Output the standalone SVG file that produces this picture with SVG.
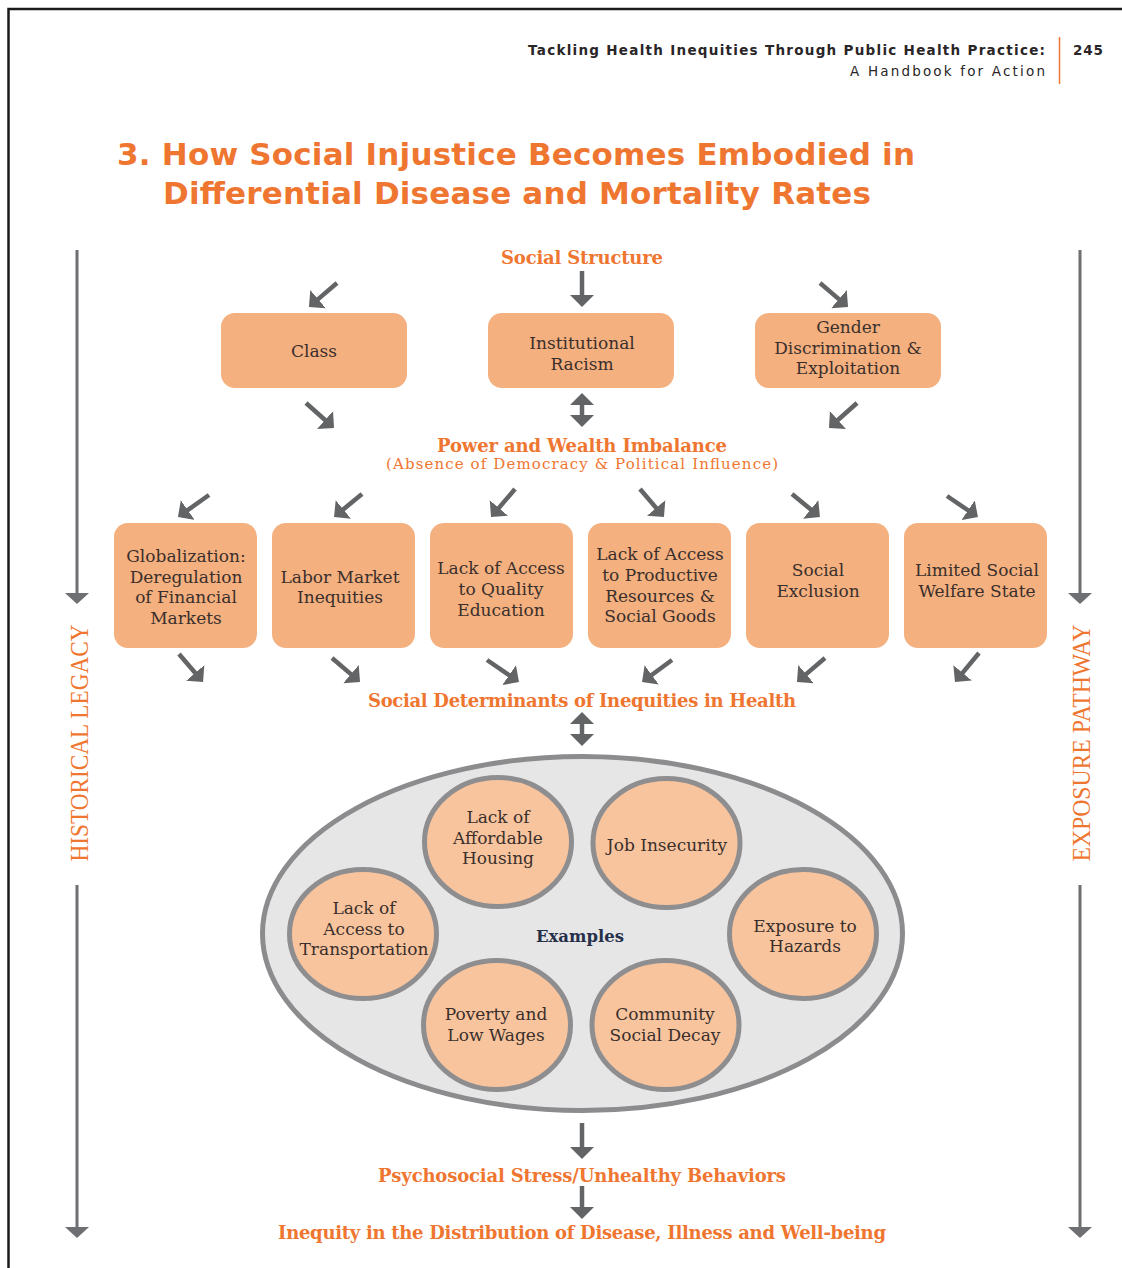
<svg xmlns="http://www.w3.org/2000/svg" width="1122" height="1268" viewBox="0 0 1122 1268">
  <defs>
    <style>
      .page { fill: none; stroke: #1a1a1a; stroke-width: 2.5; }
      .hdr { font-family: "DejaVu Sans", "Liberation Sans", sans-serif; font-size: 13.5px; fill: #2a2527; }
      .title { font-family: "DejaVu Sans", "Liberation Sans", sans-serif; font-size: 31px; font-weight: bold; fill: #ef7630; }
      .lbl { font-family: "DejaVu Serif", "Liberation Serif", serif; font-weight: bold; font-size: 18px; fill: #ef7630; text-anchor: middle; }
      .sub { font-family: "DejaVu Serif", "Liberation Serif", serif; font-size: 15px; fill: #ef7630; text-anchor: middle; }
      .side { font-family: "Liberation Serif", "Times New Roman", serif; font-size: 25px; fill: #ef7630; text-anchor: middle; }
      .box { fill: #f4b07f; }
      .bt { font-family: "DejaVu Serif", "Liberation Serif", serif; font-size: 17px; fill: #3a2f2c; text-anchor: middle; }
      .oval { fill: #e6e6e7; stroke: #8c8c8e; stroke-width: 5; }
      .circ { fill: #f8c49d; stroke: #8e8e90; stroke-width: 5; }
      .ex { font-family: "DejaVu Serif", "Liberation Serif", serif; font-weight: bold; font-size: 16.5px; fill: #26304a; text-anchor: middle; }
      .arr { stroke: #636466; stroke-width: 4.5; fill: none; marker-end: url(#head); }
      .dbl { stroke: #636466; stroke-width: 4.5; fill: none; marker-start: url(#head); marker-end: url(#head); }
      .rail { stroke: #6e6f72; stroke-width: 3; fill: none; marker-end: url(#bighead); }
    </style>
    <marker id="head" viewBox="0 -12 12 24" markerWidth="12" markerHeight="24" refX="3" refY="0" orient="auto-start-reverse" markerUnits="userSpaceOnUse">
      <path d="M0,-12 L12,0 L0,12 z" fill="#636466"/>
    </marker>
    <marker id="bighead" viewBox="0 -12 11 24" markerWidth="11" markerHeight="24" refX="2" refY="0" orient="auto" markerUnits="userSpaceOnUse">
      <path d="M0,-12 L11,0 L0,12 z" fill="#6e6f72"/>
    </marker>
  </defs>

  <rect width="1122" height="1268" fill="#ffffff"/>
  <!-- page frame -->
  <path class="page" d="M8.5,1268 V9 H1122"/>

  <!-- running header -->
  <g id="header">
    <text class="hdr" x="1045" y="55" text-anchor="end" font-weight="bold" textLength="517">Tackling Health Inequities Through Public Health Practice:</text>
    <text class="hdr" x="1045" y="76" text-anchor="end" textLength="195">A Handbook for Action</text>
    <line x1="1059.5" y1="37" x2="1059.5" y2="84" stroke="#ef7630" stroke-width="1.5"/>
    <text class="hdr" x="1073" y="55" font-weight="bold" textLength="30">245</text>
  </g>

  <g id="title">
    <text class="title" x="117" y="165" textLength="798">3. How Social Injustice Becomes Embodied in</text>
    <text class="title" x="163" y="204" textLength="708">Differential Disease and Mortality Rates</text>
  </g>

  <!-- side rails -->
  <g id="historical-legacy">
    <text class="side" transform="translate(88,743) rotate(-90)" textLength="237" lengthAdjust="spacingAndGlyphs">HISTORICAL LEGACY</text>
  </g>
  <g id="exposure-pathway">
    <text class="side" transform="translate(1090,743) rotate(-90)" textLength="237" lengthAdjust="spacingAndGlyphs">EXPOSURE PATHWAY</text>
  </g>

  <g id="social-structure">
    <text class="lbl" x="582" y="264" textLength="162">Social Structure</text>
  </g>

  <g id="class">
    <rect class="box" x="221" y="313" width="186" height="75" rx="14"/>
    <text class="bt" x="314" y="357">Class</text>
  </g>
  <g id="institutional-racism">
    <rect class="box" x="488" y="313" width="186" height="75" rx="14"/>
    <text class="bt" x="582" y="349">Institutional</text>
    <text class="bt" x="582" y="370">Racism</text>
  </g>
  <g id="gender">
    <rect class="box" x="755" y="313" width="186" height="75" rx="14"/>
    <text class="bt" x="848" y="333">Gender</text>
    <text class="bt" x="848" y="354">Discrimination &amp;</text>
    <text class="bt" x="848" y="374">Exploitation</text>
  </g>

  <g id="power-wealth">
    <text class="lbl" x="582" y="452" textLength="290">Power and Wealth Imbalance</text>
    <text class="sub" x="582" y="469" textLength="392">(Absence of Democracy &amp; Political Influence)</text>
  </g>

  <g id="globalization">
    <rect class="box" x="114" y="523" width="143" height="125" rx="14"/>
    <text class="bt" x="186" y="562">Globalization:</text>
    <text class="bt" x="186" y="583">Deregulation</text>
    <text class="bt" x="186" y="603">of Financial</text>
    <text class="bt" x="186" y="624">Markets</text>
  </g>
  <g id="labor-market">
    <rect class="box" x="272" y="523" width="143" height="125" rx="14"/>
    <text class="bt" x="340" y="583">Labor Market</text>
    <text class="bt" x="340" y="603">Inequities</text>
  </g>
  <g id="education">
    <rect class="box" x="430" y="523" width="143" height="125" rx="14"/>
    <text class="bt" x="501" y="574">Lack of Access</text>
    <text class="bt" x="501" y="595">to Quality</text>
    <text class="bt" x="501" y="616">Education</text>
  </g>
  <g id="productive-resources">
    <rect class="box" x="588" y="523" width="143" height="125" rx="14"/>
    <text class="bt" x="660" y="560">Lack of Access</text>
    <text class="bt" x="660" y="581">to Productive</text>
    <text class="bt" x="660" y="602">Resources &amp;</text>
    <text class="bt" x="660" y="622">Social Goods</text>
  </g>
  <g id="social-exclusion">
    <rect class="box" x="746" y="523" width="143" height="125" rx="14"/>
    <text class="bt" x="818" y="576">Social</text>
    <text class="bt" x="818" y="597">Exclusion</text>
  </g>
  <g id="welfare-state">
    <rect class="box" x="904" y="523" width="143" height="125" rx="14"/>
    <text class="bt" x="977" y="576">Limited Social</text>
    <text class="bt" x="977" y="597">Welfare State</text>
  </g>

  <g id="social-determinants">
    <text class="lbl" x="582" y="707" textLength="428">Social Determinants of Inequities in Health</text>
  </g>

  <g id="examples">
    <ellipse class="oval" cx="582.5" cy="933.5" rx="320" ry="177"/>
    <text class="ex" x="580" y="942">Examples</text>
  </g>
  <g id="housing">
    <ellipse class="circ" cx="498" cy="842" rx="73.5" ry="64.5"/>
    <text class="bt" x="498" y="823">Lack of</text>
    <text class="bt" x="498" y="844">Affordable</text>
    <text class="bt" x="498" y="864">Housing</text>
  </g>
  <g id="job-insecurity">
    <ellipse class="circ" cx="666.5" cy="843" rx="73.5" ry="64.5"/>
    <text class="bt" x="667" y="851">Job Insecurity</text>
  </g>
  <g id="transportation">
    <ellipse class="circ" cx="363" cy="934" rx="73.5" ry="64.5"/>
    <text class="bt" x="364" y="914">Lack of</text>
    <text class="bt" x="364" y="935">Access to</text>
    <text class="bt" x="364" y="955">Transportation</text>
  </g>
  <g id="hazards">
    <ellipse class="circ" cx="803" cy="934" rx="73.5" ry="64.5"/>
    <text class="bt" x="805" y="932">Exposure to</text>
    <text class="bt" x="805" y="952">Hazards</text>
  </g>
  <g id="poverty">
    <ellipse class="circ" cx="497" cy="1025" rx="73.5" ry="64.5"/>
    <text class="bt" x="496" y="1020">Poverty and</text>
    <text class="bt" x="496" y="1041">Low Wages</text>
  </g>
  <g id="community-decay">
    <ellipse class="circ" cx="665.5" cy="1025" rx="73.5" ry="64.5"/>
    <text class="bt" x="665" y="1020">Community</text>
    <text class="bt" x="665" y="1041">Social Decay</text>
  </g>

  <g id="psychosocial-stress">
    <text class="lbl" x="582" y="1182" textLength="408">Psychosocial Stress/Unhealthy Behaviors</text>
  </g>
  <g id="inequity-outcome">
    <text class="lbl" x="582" y="1239" textLength="608">Inequity in the Distribution of Disease, Illness and Well-being</text>
  </g>

  <g id="connectors">
    <!-- side rails -->
    <line class="rail" x1="77" y1="250" x2="77" y2="595"/>
    <line class="rail" x1="77" y1="885" x2="77" y2="1229"/>
    <line class="rail" x1="1080" y1="250" x2="1080" y2="595"/>
    <line class="rail" x1="1080" y1="885" x2="1080" y2="1229"/>

    <!-- social structure to first tier -->
    <line class="arr" x1="337" y1="283" x2="315.8" y2="301.1"/>
    <line class="arr" x1="582" y1="271" x2="582" y2="298"/>
    <line class="arr" x1="820" y1="283" x2="841.2" y2="301.1"/>

    <!-- first tier to power and wealth -->
    <line class="arr" x1="306" y1="403" x2="327.3" y2="422"/>
    <line class="dbl" x1="582" y1="402" x2="582" y2="418"/>
    <line class="arr" x1="857" y1="403" x2="835.7" y2="422"/>

    <!-- power and wealth to second tier -->
    <line class="arr" x1="209" y1="495" x2="185.3" y2="511.8"/>
    <line class="arr" x1="362" y1="494" x2="341" y2="511.3"/>
    <line class="arr" x1="515" y1="489" x2="496.9" y2="510.2"/>
    <line class="arr" x1="640" y1="489" x2="658.1" y2="510.2"/>
    <line class="arr" x1="792" y1="494" x2="813" y2="511.3"/>
    <line class="arr" x1="947" y1="496" x2="970.5" y2="512"/>

    <!-- second tier to social determinants -->
    <line class="arr" x1="179" y1="654" x2="197.2" y2="675.2"/>
    <line class="arr" x1="332" y1="658" x2="353.2" y2="676.1"/>
    <line class="arr" x1="487" y1="660" x2="511.6" y2="676.9"/>
    <line class="arr" x1="672" y1="660" x2="649.3" y2="676.7"/>
    <line class="arr" x1="825" y1="658" x2="803.8" y2="676.1"/>
    <line class="arr" x1="979" y1="653" x2="960.7" y2="675.1"/>

    <!-- social determinants to examples and onward -->
    <line class="dbl" x1="582" y1="721" x2="582" y2="737"/>
    <line class="arr" x1="582" y1="1123" x2="582" y2="1150"/>
    <line class="arr" x1="582" y1="1186" x2="582" y2="1210"/>
  </g>
</svg>
